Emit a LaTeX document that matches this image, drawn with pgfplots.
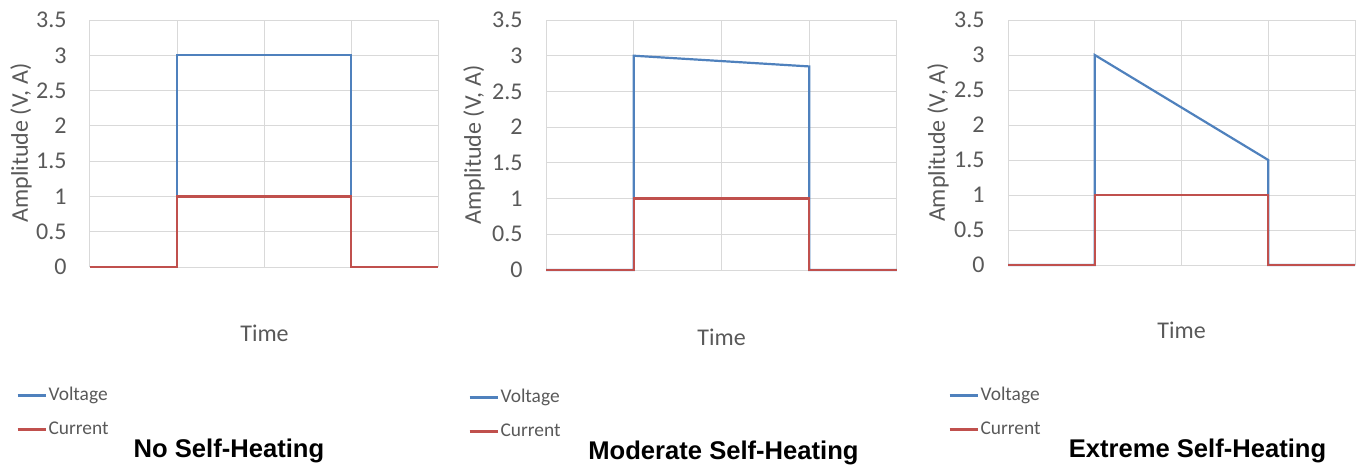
\documentclass[border=0pt]{standalone}
\usepackage{fontspec}
\setmainfont{Carlito}
\newfontfamily\titlefont{Liberation Sans}
\usepackage{pgfplots}
\pgfplotsset{compat=1.18}

\definecolor{vblue}{HTML}{4F81BD}
\definecolor{cred}{HTML}{C0504D}
\definecolor{gridgray}{HTML}{D9D9D9}
\definecolor{txtgray}{HTML}{595959}

\pgfplotsset{
  panel/.style={
    scale only axis,
    xmin=0, xmax=4, ymin=0, ymax=3.5,
    xtick={0,1,2,3,4}, xticklabels={},
    ytick={0,0.5,...,3.5},
    grid=major,
    major grid style={gridgray, line width=0.5pt},
    axis line style={draw=none},
    tick style={draw=none},
    clip=false,
    /pgf/number format/assume math mode=true,
    yticklabel style={font=\fontsize{12}{14}\selectfont, text=txtgray,
      anchor=east, inner sep=0pt, xshift=-11.5pt},
    legend style={draw=none, fill=none, inner sep=0pt, column sep=1pt,
      font=\fontsize{9.7}{11}\selectfont, text=txtgray, row sep=9pt,
      nodes={inner sep=0pt, text height=6.4pt, text depth=1.6pt}},
    legend cell align=left,
    legend image code/.code={\draw[#1] (0pt,0pt) -- (14pt,0pt);},
    every axis plot/.append style={line width=1.1pt},
  },
}
\tikzset{
  lbl/.style={font=\fontsize{12}{14}\selectfont, text=txtgray},
  ttl/.style={font=\titlefont\bfseries\fontsize{12.8}{14}\selectfont},
}

\begin{document}
\begin{tikzpicture}
\useasboundingbox (0,0) rectangle (678pt,234pt);

% No self-heating
\begin{axis}[panel, at={(45pt,100.5pt)}, anchor=south west,
  width=174pt, height=123.5pt,
  legend style={at={(-0.2126,-0.486)}, anchor=north west}]
\addplot[vblue] coordinates {(0,0) (1,0) (1,3) (3,3) (3,0) (4,0)};
\addlegendentry{Voltage}
\addplot[cred] coordinates {(0,0) (1,0) (1,1) (3,1) (3,0) (4,0)};
\addlegendentry{Current}
\end{axis}

% Moderate self-heating
\begin{axis}[panel, at={(273pt,99pt)}, anchor=south west,
  width=175.5pt, height=125pt,
  legend style={at={(-0.2222,-0.476)}, anchor=north west}]
\addplot[vblue] coordinates {(0,0) (1,0) (1,3) (3,2.85) (3,0) (4,0)};
\addlegendentry{Voltage}
\addplot[cred] coordinates {(0,0) (1,0) (1,1) (3,1) (3,0) (4,0)};
\addlegendentry{Current}
\end{axis}

% Extreme self-heating
\begin{axis}[panel, at={(504pt,101.5pt)}, anchor=south west,
  width=173.5pt, height=122.5pt,
  legend style={at={(-0.1729,-0.498)}, anchor=north west}]
\addplot[vblue] coordinates {(0,0) (1,0) (1,3) (3,1.5) (3,0) (4,0)};
\addlegendentry{Voltage}
\addplot[cred] coordinates {(0,0) (1,0) (1,1) (3,1) (3,0) (4,0)};
\addlegendentry{Current}
\end{axis}

\node[lbl, rotate=90] at (10.5pt,162.5pt) {Amplitude (V, A)};
\node[lbl, rotate=90] at (237pt,161.5pt) {Amplitude (V, A)};
\node[lbl, rotate=90] at (469pt,162.75pt) {Amplitude (V, A)};

\node[lbl] at (132.25pt,67.5pt) {Time};
\node[lbl] at (360.8pt,65.5pt) {Time};
\node[lbl] at (590.8pt,69pt) {Time};

\node[ttl] at (114.5pt,8.5pt) {No Self-Heating};
\node[ttl] at (361.75pt,7.5pt) {Moderate Self-Heating};
\node[ttl] at (598.75pt,8.5pt) {Extreme Self-Heating};
\end{tikzpicture}
\end{document}
